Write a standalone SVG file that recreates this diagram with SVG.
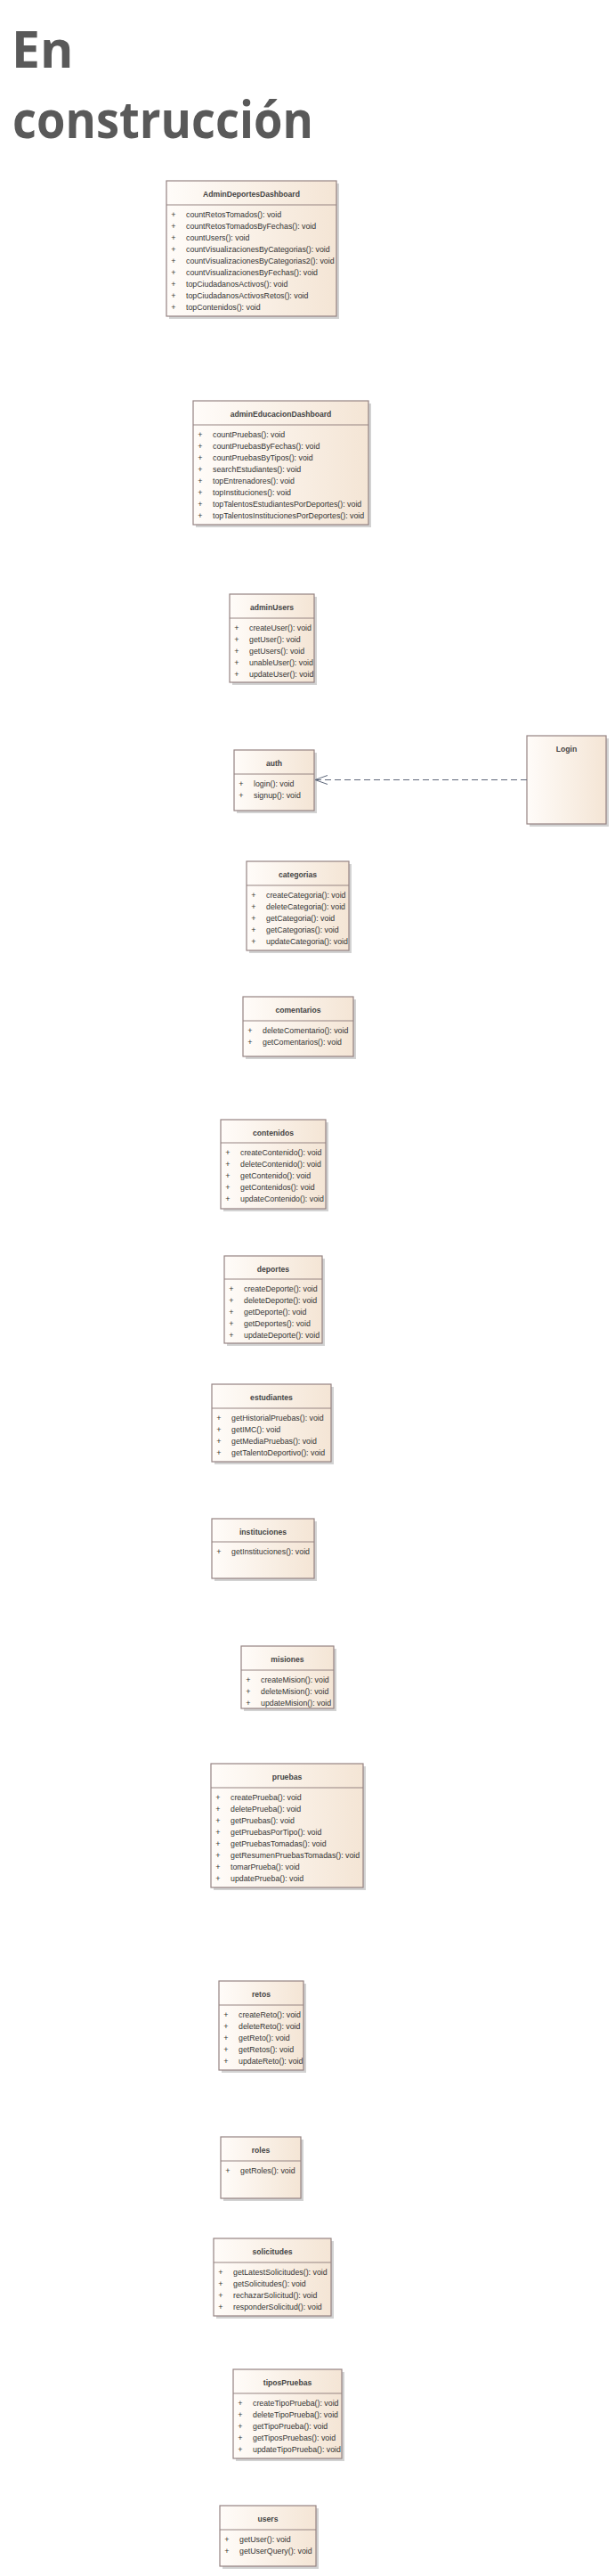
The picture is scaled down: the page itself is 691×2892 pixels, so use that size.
<svg xmlns="http://www.w3.org/2000/svg" width="691" height="2892" viewBox="0 0 691 2892">
<defs>
<linearGradient id="fillG" x1="0" y1="0" x2="1" y2="0">
<stop offset="0" stop-color="#FFFCF9"/>
<stop offset="1" stop-color="#F4E5D5"/>
</linearGradient>
<marker id="openArrow" viewBox="0 0 16 12" markerWidth="16" markerHeight="12" refX="15" refY="6" orient="auto" markerUnits="userSpaceOnUse">
<path d="M1,1 L15,6 L1,11" fill="none" stroke="#5E677A" stroke-width="1" stroke-dasharray="none"/>
</marker>
</defs>
<style>
.box{fill:url(#fillG);stroke:#958382;stroke-width:1.2}
.shadow{fill:#d2d2d2}
.sep{stroke:#958382;stroke-width:1.2}
.name{font-family:"Liberation Sans",Arial,sans-serif;font-size:8.6px;font-weight:bold;fill:#444444;text-anchor:middle}
.m{font-family:"Liberation Sans",Arial,sans-serif;font-size:8.8px;fill:#333333}
.p{font-family:"Liberation Sans",Arial,sans-serif;font-size:9px;fill:#333333;text-anchor:middle}
.title{font-family:"Open Sans","Noto Sans","DejaVu Sans",sans-serif;font-size:57px;font-weight:bold;fill:#595959}
.dep{stroke:#5E677A;stroke-width:1;stroke-dasharray:7,4;fill:none}
</style>
<rect width="691" height="2892" fill="#ffffff"/>
<g id="heading">
<text class="title" x="13" y="76">En</text>
<text class="title" x="14" y="155" textLength="338" lengthAdjust="spacingAndGlyphs">construcción</text>
</g>

<g id="AdminDeportesDashboard">
<rect class="shadow" x="190" y="206" width="191" height="152"/>
<rect class="box" x="187" y="203" width="191" height="152"/>
<line class="sep" x1="187" y1="230" x2="378" y2="230"/>
<text class="name" x="282.5" y="221">AdminDeportesDashboard</text>
<text class="p" x="195" y="243.5">+</text><text class="m" x="209" y="243.5">countRetosTomados(): void</text>
<text class="p" x="195" y="256.5">+</text><text class="m" x="209" y="256.5">countRetosTomadosByFechas(): void</text>
<text class="p" x="195" y="269.5">+</text><text class="m" x="209" y="269.5">countUsers(): void</text>
<text class="p" x="195" y="282.5">+</text><text class="m" x="209" y="282.5">countVisualizacionesByCategorias(): void</text>
<text class="p" x="195" y="295.5">+</text><text class="m" x="209" y="295.5">countVisualizacionesByCategorias2(): void</text>
<text class="p" x="195" y="308.5">+</text><text class="m" x="209" y="308.5">countVisualizacionesByFechas(): void</text>
<text class="p" x="195" y="321.5">+</text><text class="m" x="209" y="321.5">topCiudadanosActivos(): void</text>
<text class="p" x="195" y="334.5">+</text><text class="m" x="209" y="334.5">topCiudadanosActivosRetos(): void</text>
<text class="p" x="195" y="347.5">+</text><text class="m" x="209" y="347.5">topContenidos(): void</text>
</g>

<g id="adminEducacionDashboard">
<rect class="shadow" x="220" y="453" width="197" height="139"/>
<rect class="box" x="217" y="450" width="197" height="139"/>
<line class="sep" x1="217" y1="477" x2="414" y2="477"/>
<text class="name" x="315.5" y="468">adminEducacionDashboard</text>
<text class="p" x="225" y="490.5">+</text><text class="m" x="239" y="490.5">countPruebas(): void</text>
<text class="p" x="225" y="503.5">+</text><text class="m" x="239" y="503.5">countPruebasByFechas(): void</text>
<text class="p" x="225" y="516.5">+</text><text class="m" x="239" y="516.5">countPruebasByTipos(): void</text>
<text class="p" x="225" y="529.5">+</text><text class="m" x="239" y="529.5">searchEstudiantes(): void</text>
<text class="p" x="225" y="542.5">+</text><text class="m" x="239" y="542.5">topEntrenadores(): void</text>
<text class="p" x="225" y="555.5">+</text><text class="m" x="239" y="555.5">topInstituciones(): void</text>
<text class="p" x="225" y="568.5">+</text><text class="m" x="239" y="568.5">topTalentosEstudiantesPorDeportes(): void</text>
<text class="p" x="225" y="581.5">+</text><text class="m" x="239" y="581.5">topTalentosInstitucionesPorDeportes(): void</text>
</g>

<g id="adminUsers">
<rect class="shadow" x="261" y="670" width="95" height="99"/>
<rect class="box" x="258" y="667" width="95" height="99"/>
<line class="sep" x1="258" y1="694" x2="353" y2="694"/>
<text class="name" x="305.5" y="685">adminUsers</text>
<text class="p" x="266" y="707.5">+</text><text class="m" x="280" y="707.5">createUser(): void</text>
<text class="p" x="266" y="720.5">+</text><text class="m" x="280" y="720.5">getUser(): void</text>
<text class="p" x="266" y="733.5">+</text><text class="m" x="280" y="733.5">getUsers(): void</text>
<text class="p" x="266" y="746.5">+</text><text class="m" x="280" y="746.5">unableUser(): void</text>
<text class="p" x="266" y="759.5">+</text><text class="m" x="280" y="759.5">updateUser(): void</text>
</g>

<g id="auth">
<rect class="shadow" x="266" y="845" width="90" height="68"/>
<rect class="box" x="263" y="842" width="90" height="68"/>
<line class="sep" x1="263" y1="869" x2="353" y2="869"/>
<text class="name" x="308" y="860">auth</text>
<text class="p" x="271" y="882.5">+</text><text class="m" x="285" y="882.5">login(): void</text>
<text class="p" x="271" y="895.5">+</text><text class="m" x="285" y="895.5">signup(): void</text>
</g>

<g id="Login">
<rect class="shadow" x="595" y="829" width="89" height="99"/>
<rect class="box" x="592" y="826" width="89" height="99"/>
<text class="name" x="636.5" y="844">Login</text>
</g>

<g id="categorias">
<rect class="shadow" x="280" y="970" width="115" height="100"/>
<rect class="box" x="277" y="967" width="115" height="100"/>
<line class="sep" x1="277" y1="994" x2="392" y2="994"/>
<text class="name" x="334.5" y="985">categorias</text>
<text class="p" x="285" y="1007.5">+</text><text class="m" x="299" y="1007.5">createCategoria(): void</text>
<text class="p" x="285" y="1020.5">+</text><text class="m" x="299" y="1020.5">deleteCategoria(): void</text>
<text class="p" x="285" y="1033.5">+</text><text class="m" x="299" y="1033.5">getCategoria(): void</text>
<text class="p" x="285" y="1046.5">+</text><text class="m" x="299" y="1046.5">getCategorias(): void</text>
<text class="p" x="285" y="1059.5">+</text><text class="m" x="299" y="1059.5">updateCategoria(): void</text>
</g>

<g id="comentarios">
<rect class="shadow" x="276" y="1122" width="124" height="67"/>
<rect class="box" x="273" y="1119" width="124" height="67"/>
<line class="sep" x1="273" y1="1146" x2="397" y2="1146"/>
<text class="name" x="335" y="1137">comentarios</text>
<text class="p" x="281" y="1159.5">+</text><text class="m" x="295" y="1159.5">deleteComentario(): void</text>
<text class="p" x="281" y="1172.5">+</text><text class="m" x="295" y="1172.5">getComentarios(): void</text>
</g>

<g id="contenidos">
<rect class="shadow" x="251" y="1260" width="118" height="100"/>
<rect class="box" x="248" y="1257" width="118" height="100"/>
<line class="sep" x1="248" y1="1283" x2="366" y2="1283"/>
<text class="name" x="307" y="1275">contenidos</text>
<text class="p" x="256" y="1296.5">+</text><text class="m" x="270" y="1296.5">createContenido(): void</text>
<text class="p" x="256" y="1309.5">+</text><text class="m" x="270" y="1309.5">deleteContenido(): void</text>
<text class="p" x="256" y="1322.5">+</text><text class="m" x="270" y="1322.5">getContenido(): void</text>
<text class="p" x="256" y="1335.5">+</text><text class="m" x="270" y="1335.5">getContenidos(): void</text>
<text class="p" x="256" y="1348.5">+</text><text class="m" x="270" y="1348.5">updateContenido(): void</text>
</g>

<g id="deportes">
<rect class="shadow" x="255" y="1413" width="110" height="98"/>
<rect class="box" x="252" y="1410" width="110" height="98"/>
<line class="sep" x1="252" y1="1436" x2="362" y2="1436"/>
<text class="name" x="307" y="1428">deportes</text>
<text class="p" x="260" y="1449.5">+</text><text class="m" x="274" y="1449.5">createDeporte(): void</text>
<text class="p" x="260" y="1462.5">+</text><text class="m" x="274" y="1462.5">deleteDeporte(): void</text>
<text class="p" x="260" y="1475.5">+</text><text class="m" x="274" y="1475.5">getDeporte(): void</text>
<text class="p" x="260" y="1488.5">+</text><text class="m" x="274" y="1488.5">getDeportes(): void</text>
<text class="p" x="260" y="1501.5">+</text><text class="m" x="274" y="1501.5">updateDeporte(): void</text>
</g>

<g id="estudiantes">
<rect class="shadow" x="241" y="1557" width="134" height="87"/>
<rect class="box" x="238" y="1554" width="134" height="87"/>
<line class="sep" x1="238" y1="1581" x2="372" y2="1581"/>
<text class="name" x="305" y="1572">estudiantes</text>
<text class="p" x="246" y="1594.5">+</text><text class="m" x="260" y="1594.5">getHistorialPruebas(): void</text>
<text class="p" x="246" y="1607.5">+</text><text class="m" x="260" y="1607.5">getIMC(): void</text>
<text class="p" x="246" y="1620.5">+</text><text class="m" x="260" y="1620.5">getMediaPruebas(): void</text>
<text class="p" x="246" y="1633.5">+</text><text class="m" x="260" y="1633.5">getTalentoDeportivo(): void</text>
</g>

<g id="instituciones">
<rect class="shadow" x="241" y="1708" width="115" height="67"/>
<rect class="box" x="238" y="1705" width="115" height="67"/>
<line class="sep" x1="238" y1="1731" x2="353" y2="1731"/>
<text class="name" x="295.5" y="1723">instituciones</text>
<text class="p" x="246" y="1744.5">+</text><text class="m" x="260" y="1744.5">getInstituciones(): void</text>
</g>

<g id="misiones">
<rect class="shadow" x="274" y="1851" width="104" height="70"/>
<rect class="box" x="271" y="1848" width="104" height="70"/>
<line class="sep" x1="271" y1="1875" x2="375" y2="1875"/>
<text class="name" x="323" y="1866">misiones</text>
<text class="p" x="279" y="1888.5">+</text><text class="m" x="293" y="1888.5">createMision(): void</text>
<text class="p" x="279" y="1901.5">+</text><text class="m" x="293" y="1901.5">deleteMision(): void</text>
<text class="p" x="279" y="1914.5">+</text><text class="m" x="293" y="1914.5">updateMision(): void</text>
</g>

<g id="pruebas">
<rect class="shadow" x="240" y="1983" width="171" height="139"/>
<rect class="box" x="237" y="1980" width="171" height="139"/>
<line class="sep" x1="237" y1="2007" x2="408" y2="2007"/>
<text class="name" x="322.5" y="1998">pruebas</text>
<text class="p" x="245" y="2020.5">+</text><text class="m" x="259" y="2020.5">createPrueba(): void</text>
<text class="p" x="245" y="2033.5">+</text><text class="m" x="259" y="2033.5">deletePrueba(): void</text>
<text class="p" x="245" y="2046.5">+</text><text class="m" x="259" y="2046.5">getPruebas(): void</text>
<text class="p" x="245" y="2059.5">+</text><text class="m" x="259" y="2059.5">getPruebasPorTipo(): void</text>
<text class="p" x="245" y="2072.5">+</text><text class="m" x="259" y="2072.5">getPruebasTomadas(): void</text>
<text class="p" x="245" y="2085.5">+</text><text class="m" x="259" y="2085.5">getResumenPruebasTomadas(): void</text>
<text class="p" x="245" y="2098.5">+</text><text class="m" x="259" y="2098.5">tomarPrueba(): void</text>
<text class="p" x="245" y="2111.5">+</text><text class="m" x="259" y="2111.5">updatePrueba(): void</text>
</g>

<g id="retos">
<rect class="shadow" x="249" y="2227" width="95" height="100"/>
<rect class="box" x="246" y="2224" width="95" height="100"/>
<line class="sep" x1="246" y1="2251" x2="341" y2="2251"/>
<text class="name" x="293.5" y="2242">retos</text>
<text class="p" x="254" y="2264.5">+</text><text class="m" x="268" y="2264.5">createReto(): void</text>
<text class="p" x="254" y="2277.5">+</text><text class="m" x="268" y="2277.5">deleteReto(): void</text>
<text class="p" x="254" y="2290.5">+</text><text class="m" x="268" y="2290.5">getReto(): void</text>
<text class="p" x="254" y="2303.5">+</text><text class="m" x="268" y="2303.5">getRetos(): void</text>
<text class="p" x="254" y="2316.5">+</text><text class="m" x="268" y="2316.5">updateReto(): void</text>
</g>

<g id="roles">
<rect class="shadow" x="251" y="2402" width="90" height="69"/>
<rect class="box" x="248" y="2399" width="90" height="69"/>
<line class="sep" x1="248" y1="2426" x2="338" y2="2426"/>
<text class="name" x="293" y="2417">roles</text>
<text class="p" x="256" y="2439.5">+</text><text class="m" x="270" y="2439.5">getRoles(): void</text>
</g>

<g id="solicitudes">
<rect class="shadow" x="243" y="2516" width="132" height="87"/>
<rect class="box" x="240" y="2513" width="132" height="87"/>
<line class="sep" x1="240" y1="2540" x2="372" y2="2540"/>
<text class="name" x="306" y="2531">solicitudes</text>
<text class="p" x="248" y="2553.5">+</text><text class="m" x="262" y="2553.5">getLatestSolicitudes(): void</text>
<text class="p" x="248" y="2566.5">+</text><text class="m" x="262" y="2566.5">getSolicitudes(): void</text>
<text class="p" x="248" y="2579.5">+</text><text class="m" x="262" y="2579.5">rechazarSolicitud(): void</text>
<text class="p" x="248" y="2592.5">+</text><text class="m" x="262" y="2592.5">responderSolicitud(): void</text>
</g>

<g id="tiposPruebas">
<rect class="shadow" x="265" y="2663" width="122" height="100"/>
<rect class="box" x="262" y="2660" width="122" height="100"/>
<line class="sep" x1="262" y1="2687" x2="384" y2="2687"/>
<text class="name" x="323" y="2678">tiposPruebas</text>
<text class="p" x="270" y="2700.5">+</text><text class="m" x="284" y="2700.5">createTipoPrueba(): void</text>
<text class="p" x="270" y="2713.5">+</text><text class="m" x="284" y="2713.5">deleteTipoPrueba(): void</text>
<text class="p" x="270" y="2726.5">+</text><text class="m" x="284" y="2726.5">getTipoPrueba(): void</text>
<text class="p" x="270" y="2739.5">+</text><text class="m" x="284" y="2739.5">getTiposPruebas(): void</text>
<text class="p" x="270" y="2752.5">+</text><text class="m" x="284" y="2752.5">updateTipoPrueba(): void</text>
</g>

<g id="users">
<rect class="shadow" x="250" y="2816" width="108" height="68"/>
<rect class="box" x="247" y="2813" width="108" height="68"/>
<line class="sep" x1="247" y1="2840" x2="355" y2="2840"/>
<text class="name" x="301" y="2831">users</text>
<text class="p" x="255" y="2853.5">+</text><text class="m" x="269" y="2853.5">getUser(): void</text>
<text class="p" x="255" y="2866.5">+</text><text class="m" x="269" y="2866.5">getUserQuery(): void</text>
</g>

<g id="connectors">
<line class="dep" x1="592" y1="875.5" x2="354" y2="875.5" marker-end="url(#openArrow)"/>
</g>
</svg>
